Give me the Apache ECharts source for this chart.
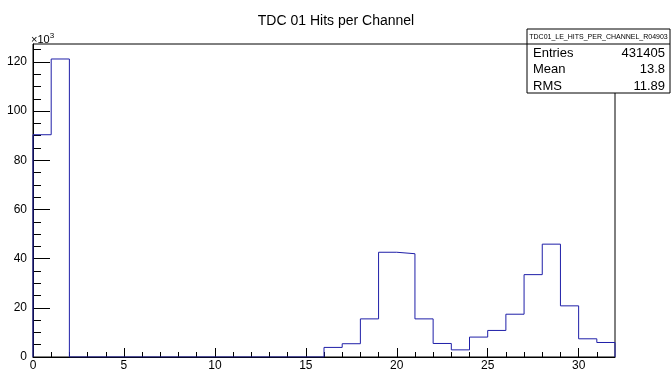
<!DOCTYPE html>
<html>
<head>
<meta charset="utf-8">
<script src="https://cdn.jsdelivr.net/npm/echarts@6/dist/echarts.min.js"></script>
<style>html,body{margin:0;padding:0;background:#fff}#c{width:672px;height:370px}</style>
</head>
<body>
<div id="c"></div>
<script>
// Bin low edges (channel number) and counts (in thousands)
const channels = [0,1,2,3,4,5,6,7,8,9,10,11,12,13,14,15,16,17,18,19,20,21,22,23,24,25,26,27,28,29,30,31];
const counts = [90.4,121.2,0,0,0,0,0,0,0,0,0,0,0,0,0,0,3.9,5.4,15.5,42.6,42.0,15.5,5.5,2.9,8.1,10.8,17.4,33.5,45.9,20.8,7.4,5.9];
const binWidth = 1;
const xMajorTicks = [0,5,10,15,20,25,30];
const xMinorTicks = [1,2,3,4,6,7,8,9,11,12,13,14,16,17,18,19,21,22,23,24,26,27,28,29,31];
const yMajorTicks = [0,20,40,60,80,100,120];
const yMinorTicks = [5,10,15,25,30,35,45,50,55,65,70,75,85,90,95,105,110,115,125];
const xRange = [0,32];
const yRange = [0,127.3];
const titleText = 'TDC 01 Hits per Channel';
const statsName = 'TDC01_LE_HITS_PER_CHANNEL_R04903';
const statsLabels = ['Entries','Mean','RMS'];
const statsValues = ['431405','13.8','11.89'];

// Build step outline points from bins
const pts = [[channels[0], 0]];
for (let i = 0; i < channels.length; i++) pts.push([channels[i], counts[i]]);
pts.push([channels[channels.length-1] + binWidth, counts[counts.length-1]]);
pts.push([channels[channels.length-1] + binWidth, 0]);

const FONT = 'Liberation Sans, Arial, Helvetica, sans-serif';
const chart = echarts.init(document.getElementById('c'), null, {renderer:'canvas'});

const gLeft = 33, gRight = 57, gTop = 44, gBottom = 13;
const boxX = 527, boxY = 29, boxW = 143, boxH = 64;

chart.setOption({
  animation: false,
  backgroundColor: '#fff',
  title: {
    text: titleText, left: 'center', top: 9,
    textStyle: {fontFamily: FONT, fontSize: 14, fontWeight: 'normal', color: '#000'}
  },
  grid: {left: gLeft, right: gRight, top: gTop, bottom: gBottom, show: true, borderColor: '#000', borderWidth: 1, backgroundColor: 'transparent', containLabel: false, outerBoundsMode: 'none'},
  xAxis: [{
    type: 'value', min: xRange[0], max: xRange[1], position: 'bottom',
    axisLine: {show: true, onZero: false, lineStyle: {color: '#000', width: 1}},
    axisTick: {show: true, inside: true, length: 9, customValues: xMajorTicks, lineStyle: {color: '#000'}},
    axisLabel: {show: true, customValues: xMajorTicks, margin: 3, fontFamily: FONT, fontSize: 12, color: '#000', formatter: v => String(v)},
    splitLine: {show: false}
  }, {
    type: 'value', min: xRange[0], max: xRange[1], position: 'bottom', offset: 0,
    axisLine: {show: false},
    axisTick: {show: true, inside: true, length: 5, customValues: xMinorTicks, lineStyle: {color: '#000'}},
    axisLabel: {show: false},
    splitLine: {show: false}
  }],
  yAxis: [{
    type: 'value', min: yRange[0], max: yRange[1], position: 'left',
    axisLine: {show: true, onZero: false, lineStyle: {color: '#000', width: 1}},
    axisTick: {show: true, inside: true, length: 17, customValues: yMajorTicks, lineStyle: {color: '#000'}},
    axisLabel: {show: true, customValues: yMajorTicks, margin: 6, fontFamily: FONT, fontSize: 12, color: '#000', formatter: v => String(v)},
    splitLine: {show: false}
  }, {
    type: 'value', min: yRange[0], max: yRange[1], position: 'left', offset: 0,
    axisLine: {show: false},
    axisTick: {show: true, inside: true, length: 8, customValues: yMinorTicks, lineStyle: {color: '#000'}},
    axisLabel: {show: false},
    splitLine: {show: false}
  }],
  series: [{
    type: 'line', step: 'end', data: pts, xAxisIndex: 0, yAxisIndex: 0,
    showSymbol: false, symbol: 'none',
    lineStyle: {color: '#1f1fa8', width: 1},
    z: 3
  }],
  graphic: [
    {type: 'text', left: 31, top: 32, style: {
      text: '{a|×10}{b|3}', fontFamily: FONT, fill: '#000',
      rich: {a: {fontSize: 11, fontFamily: FONT, verticalAlign: 'bottom'}, b: {fontSize: 8, fontFamily: FONT, verticalAlign: 'top', padding: [0,0,5,0]}}
    }},
    {type: 'rect', shape: {x: boxX, y: boxY, width: boxW, height: boxH}, style: {fill: '#fff', stroke: '#000', lineWidth: 1}, z: 10},
    {type: 'line', shape: {x1: boxX, y1: 44, x2: boxX + boxW, y2: 44}, style: {stroke: '#000', lineWidth: 1}, z: 11},
    {type: 'text', x: boxX + boxW/2, y: 37, style: {text: statsName, fontFamily: FONT, fontSize: 7, fill: '#000', align: 'center', verticalAlign: 'middle'}, z: 11},
    ...statsLabels.map((t, i) => ({type: 'text', x: 533, y: 53 + i*16.5, style: {text: t, fontFamily: FONT, fontSize: 13, fill: '#000', align: 'left', verticalAlign: 'middle'}, z: 11})),
    ...statsValues.map((t, i) => ({type: 'text', x: 665, y: 53 + i*16.5, style: {text: t, fontFamily: FONT, fontSize: 13, fill: '#000', align: 'right', verticalAlign: 'middle'}, z: 11}))
  ]
});
</script>
</body>
</html>
